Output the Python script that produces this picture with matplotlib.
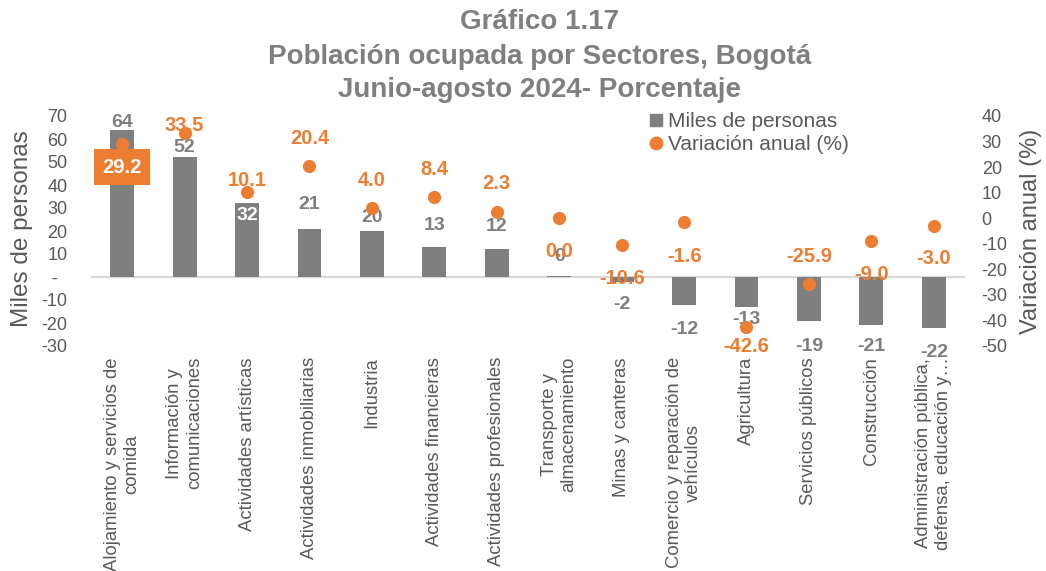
import matplotlib
matplotlib.use("Agg")
import matplotlib.pyplot as plt
from matplotlib.lines import Line2D
import numpy as np

plt.rcParams['font.family'] = ['Liberation Sans', 'DejaVu Sans']

# ---- data ----
categories = [
    "Alojamiento y servicios de\ncomida",
    "Información y\ncomunicaciones",
    "Actividades artísticas",
    "Actividades inmobiliarias",
    "Industria",
    "Actividades financieras",
    "Actividades profesionales",
    "Transporte y\nalmacenamiento",
    "Minas y canteras",
    "Comercio y reparación de\nvehículos",
    "Agricultura",
    "Servicios públicos",
    "Construcción",
    "Administración pública,\ndefensa, educación y…",
]
miles = [64, 52, 32, 21, 20, 13, 12, 0.4, -2, -12, -13, -19, -21, -22]
variacion = [29.2, 33.5, 10.1, 20.4, 4.0, 8.4, 2.3, 0.0, -10.6, -1.6, -42.6, -25.9, -9.0, -3.0]
left_ticks = [-30, -20, -10, 0, 10, 20, 30, 40, 50, 60, 70]
right_ticks = [-50, -40, -30, -20, -10, 0, 10, 20, 30, 40]

# ---- label placement (pixel offsets, downward positive) ----
bar_label_dy = [-7, -10, 12, -24, -14, -22, -23, -20, 23, 25, 13, 26, 21, 25]
var_label_dy = [23.6, -7, -12, -28, -28, -27.5, -29, 33, 33, 34, 19, -28, 33, 33]

GRAY = '#7f7f7f'
TXT = '#595959'
ORANGE = '#ED7D31'

W, H = 1046, 571
fig = plt.figure(figsize=(W / 100, H / 100), dpi=100)
ax_l, ax_r, ax_t, ax_b = 91, 965, 116, 346
ax = fig.add_axes([ax_l / W, 1 - ax_b / H, (ax_r - ax_l) / W, (ax_b - ax_t) / H])
ax2 = ax.twinx()

x = np.arange(len(categories))
ax.axhline(0, color='#d9d9d9', lw=1.6, zorder=1)
ax.bar(x, miles, width=0.38, color=GRAY, zorder=2)
ax.set_xlim(-0.5, len(categories) - 0.5)
ax.set_ylim(-30, 70)
ax2.set_ylim(-50, 40)

ax.set_yticks(left_ticks)
ax.set_yticklabels([("-  " if t == 0 else str(t)) for t in left_ticks], fontsize=13, color=TXT)
ax2.set_yticks(right_ticks)
ax2.set_yticklabels([str(t) for t in right_ticks], fontsize=13, color=TXT)
ax.tick_params(axis='y', length=0, pad=17)
ax2.tick_params(axis='y', length=0, pad=12)
ax.set_xticks(x)
ax.set_xticklabels(categories, rotation=90, ha='center', va='top',
                   multialignment='center', fontsize=13.3, color=TXT)
ax.tick_params(axis='x', length=0, pad=8)
for a in (ax, ax2):
    for s in a.spines.values():
        s.set_visible(False)

# bar labels
for i, (v, dy) in enumerate(zip(miles, bar_label_dy)):
    col = 'white' if i == 2 else GRAY
    ax.annotate(f"{v:.0f}", xy=(x[i], v), xytext=(0, -dy), textcoords='offset pixels',
                ha='center', va='center', fontsize=14, fontweight='bold', color=col, zorder=5)

# dots
ax2.scatter(x, variacion, s=90, color=ORANGE, zorder=4, linewidths=0)
for i, (v, dy) in enumerate(zip(variacion, var_label_dy)):
    if i == 0:
        ax2.annotate(f"{v:.1f}", xy=(x[i], v), xytext=(0, -dy), textcoords='offset pixels',
                     ha='center', va='center', fontsize=14.5, fontweight='bold', color='white',
                     bbox=dict(boxstyle='square,pad=0.42', fc=ORANGE, ec='none'), zorder=6)
    else:
        ax2.annotate(f"{v:.1f}", xy=(x[i], v), xytext=(0, -dy), textcoords='offset pixels',
                     ha='center', va='center', fontsize=14.5, fontweight='bold', color=ORANGE,
                     zorder=6)

# titles
title_lines = ["Gráfico 1.17", "Población ocupada por Sectores, Bogotá",
               "Junio-agosto 2024- Porcentaje"]
for ypix, t in zip([22, 57, 90], title_lines):
    fig.text(540 / W, 1 - ypix / H, t, ha='center', va='center', fontsize=20,
             fontweight='bold', color=GRAY)

# axis titles
fig.text(22 / W, 1 - 229 / H, "Miles de personas", rotation=90, ha='center', va='center',
         fontsize=17.5, color=TXT)
fig.text(1031 / W, 1 - 231 / H, "Variación anual (%)", rotation=90, ha='center', va='center',
         fontsize=17, color=TXT)

# legend
handles = [Line2D([], [], marker='s', ls='none', color=GRAY, markersize=9),
           Line2D([], [], marker='o', ls='none', color=ORANGE, markersize=9)]
leg = fig.legend(handles, ["Miles de personas", "Variación anual (%)"],
                 loc='upper left', bbox_to_anchor=(648 / W, 1 - 112 / H),
                 frameon=False, fontsize=15, handlelength=0.8, handletextpad=0.15,
                 borderpad=0, borderaxespad=0, labelspacing=0.2)
for t in leg.get_texts():
    t.set_color(TXT)

fig.savefig("out.png", dpi=100)
